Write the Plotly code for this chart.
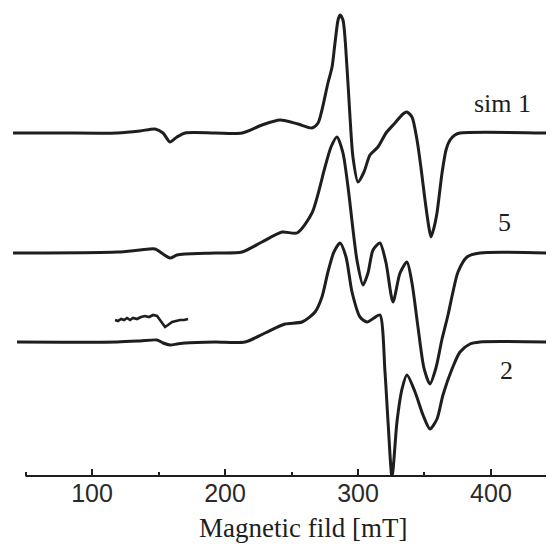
import plotly.graph_objects as go

# ---- data (field in mT, intensity in arbitrary units, + vertical offsets) ----
sim1_field = [40.6, 75.9, 118.8, 136.1, 147.4, 153.4, 158.6, 163.9, 170.0, 192.5, 212.8, 227.8,
              241.4, 254.9, 265.4, 270.0, 272.9, 277.4, 280.5, 282.7, 285.0, 286.5, 288.7, 291.7,
              294.0, 296.2, 300.0, 304.5, 309.0, 315.0, 321.1, 327.8, 333.8, 336.8, 340.6, 344.4,
              347.4, 350.4, 353.4, 354.9, 357.1, 359.4, 363.2, 366.2, 369.2, 372.9, 376.7, 442.1]
sim1_signal = [0, 0, 0, 2, 4, 0, -9, -4, 0, 0, 0, 8,
               13, 9, 5, 10, 23, 50, 66, 90, 113, 118, 113, 66,
               16, -24, -49, -39, -22, -14, 0, 10, 19, 21, 16, -7,
               -35, -67, -95, -104, -95, -80, -40, -17, -7, -2, 0, 0]

s5_field = [40.6, 118.8, 136.1, 147.4, 153.4, 158.6, 163.9, 170.0, 192.5, 212.8, 227.8, 242.9,
            254.1, 265.4, 275.2, 279.7, 284.2, 288.7, 292.5, 299.2, 303.8, 307.5, 311.3, 316.5,
            321.1, 326.3, 331.6, 336.8, 340.6, 345.1, 349.6, 354.1, 358.6, 363.2, 367.7, 371.4,
            375.2, 382.0, 391.7, 442.1]
s5_signal = [0, 1, 3, 4, -1, -5, -2, -1, 0, 1, 11, 21,
             20, 40, 86, 106, 116, 100, 66, -7, -32, -20, 3, 10,
             -10, -49, -20, -9, -30, -74, -115, -131, -115, -86, -62, -39,
             -19, -4, 0, 0]

s2_field = [43.6, 118.8, 136.1, 148.9, 153.4, 158.6, 163.9, 170.0, 192.5, 215.0, 230.1, 245.1,
            257.9, 267.7, 272.9, 277.4, 281.9, 286.5, 291.0, 295.5, 301.5, 306.8, 312.0, 316.5,
            320.3, 322.6, 325.6, 329.3, 333.1, 336.8, 342.9, 348.9, 354.1, 359.4, 363.9, 370.7,
            376.7, 384.2, 391.7, 442.1]
s2_signal = [0, 0, 1, 2, -1, -3, -2, -1, 0, 0, 9, 18,
             20, 30, 45, 70, 90, 99, 85, 50, 25, 20, 24, 27,
             -30, -80, -135, -80, -47, -33, -50, -73, -87, -77, -53, -27,
             -10, -2, 0, 0]

inset_field = [117.3, 119.5, 121.8, 124.1, 126.3, 128.6, 130.8, 133.8, 136.8, 139.8, 142.9,
               145.9, 148.9, 151.1, 153.4, 154.9, 157.1, 160.2, 163.2, 166.2, 169.2, 172.2]
inset_signal = [0, -1, 1, 0, 2, 0, 2, 1, 3, 4, 3, 5, 4, 0, -5, -7, -5, -2, -1, 0, 0, 1]

offsets = {"sim 1": 343, "5": 223, "2": 134}
inset_offset = 156
labels = ["sim 1", "5", "2"]
label_field = [409, 410.5, 412]
label_height = [373, 254, 106]

tick_vals = [100, 200, 300, 400]
tick_text = ["100", "200", "300", "400"]
minor_vals = [50, 150, 250, 350]

INK = "#1e1e1e"

fig = go.Figure()
for name, fx, fy in [("sim 1", sim1_field, sim1_signal),
                     ("5", s5_field, s5_signal),
                     ("2", s2_field, s2_signal)]:
    off = offsets[name]
    fig.add_trace(go.Scatter(
        x=fx, y=[v + off for v in fy], mode="lines", name=name,
        line=dict(color=INK, width=3, shape="spline", smoothing=0.7),
        showlegend=False, hoverinfo="skip"))

fig.add_trace(go.Scatter(
    x=inset_field, y=[v + inset_offset for v in inset_signal], mode="lines",
    line=dict(color=INK, width=2.6), showlegend=False, hoverinfo="skip"))

for t, fx, fy in zip(labels, label_field, label_height):
    fig.add_annotation(x=fx, y=fy, xref="x", yref="y", text=t, showarrow=False,
                       font=dict(family="Liberation Serif", size=26, color=INK),
                       xanchor="center", yanchor="middle")

fig.add_annotation(x=258.6, y=0, xref="x", yref="paper", yshift=-52,
                   text="Magnetic fild [mT]", showarrow=False,
                   font=dict(family="Liberation Serif", size=27, color=INK),
                   xanchor="center", yanchor="middle")

# axis baseline starting at 50 mT
fig.add_shape(type="line", xref="x", yref="paper", x0=50, x1=447.4, y0=0, y1=0,
              line=dict(color=INK, width=2))

fig.update_xaxes(range=[36.8, 447.4], tickmode="array", tickvals=tick_vals, ticktext=tick_text,
                 ticks="inside", ticklen=7, tickwidth=2, tickcolor=INK,
                 minor=dict(ticks="inside", ticklen=4, tickwidth=2, tickcolor=INK,
                            tickvals=minor_vals),
                 showgrid=False, zeroline=False, showline=False,
                 tickfont=dict(family="Liberation Sans", size=25, color="#2a2a2a"))
fig.update_yaxes(range=[0, 468], visible=False)

# the page body adds an 8px margin, so the figure is 8px smaller than the window
fig.update_layout(width=546, height=536, margin=dict(l=0, r=0, t=0, b=68),
                  paper_bgcolor="white", plot_bgcolor="white")

fig.write_html("out.html")
